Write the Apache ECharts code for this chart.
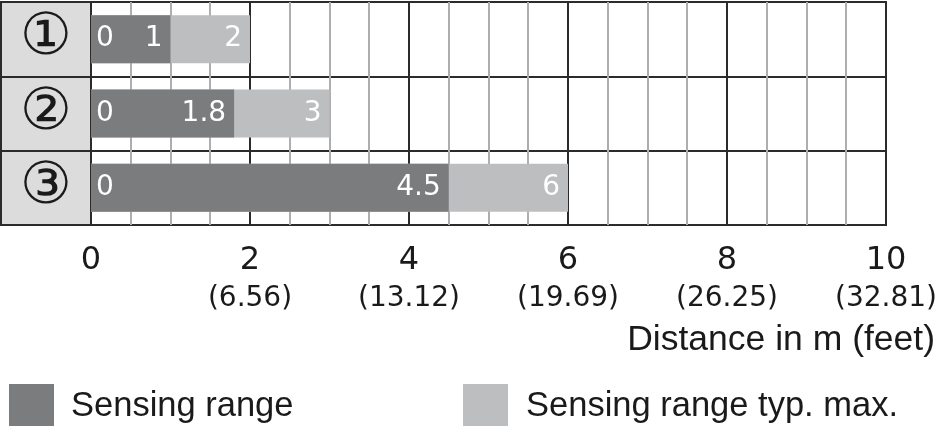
<!DOCTYPE html>
<html>
<head>
<meta charset="utf-8">
<script src="https://cdn.jsdelivr.net/npm/echarts@6/dist/echarts.min.js"></script>
<style>html,body{margin:0;padding:0;background:#fff}#c{width:940px;height:426px}</style>
</head>
<body>
<div id="c"></div>
<script>
const categories = ['①', '②', '③'];
const sensingRange = [1, 1.8, 4.5];
const typMax = [2, 3, 6];
const startValues = [0, 0, 0];
const tickValues = [0, 2, 4, 6, 8, 10];
const tickFeet = ['', '6.56', '13.12', '19.69', '26.25', '32.81'];
const legendNames = ['Sensing range', 'Sensing range typ. max.'];
const axisTitle = 'Distance in m (feet)';

const DARK = '#7b7c7e', LIGHT = '#bdbec0', LINE = '#2b2b2b', MINOR = '#aeaeb0';
const NUM = 'DejaVu Sans';
const TXT = 'Liberation Sans';

const chart = echarts.init(document.getElementById('c'));
chart.setOption({
  animation: false,
  backgroundColor: '#fff',
  title: {
    text: axisTitle, right: 0, top: 317,
    textStyle: { fontFamily: TXT, fontSize: 35.5, fontWeight: 'normal', color: '#1a1a1a' }
  },
  legend: [
    { left: 4, top: 379, itemWidth: 45, itemHeight: 45, icon: 'rect', data: [legendNames[0]],
      textStyle: { fontFamily: TXT, fontSize: 34.5, color: '#1a1a1a', padding: [0, 0, 0, 12] } },
    { left: 458, top: 379, itemWidth: 45, itemHeight: 45, icon: 'rect', data: [legendNames[1]],
      textStyle: { fontFamily: TXT, fontSize: 34.5, color: '#1a1a1a', padding: [0, 0, 0, 13] } }
  ],
  grid: [
    { left: 91, right: 52, top: 2, height: 223, show: true, borderColor: LINE, borderWidth: 2, backgroundColor: '#fff' },
    { left: 1, width: 90, top: 2, height: 223, show: true, borderColor: LINE, borderWidth: 2, backgroundColor: '#dcdcdc' }
  ],
  xAxis: [
    { type: 'value', gridIndex: 0, min: 0, max: 10, interval: 0.5, z: 0,
      axisLine: { show: false }, axisTick: { show: false }, axisLabel: { show: false },
      splitLine: { show: true, lineStyle: { color: MINOR, width: 2 } } },
    { type: 'value', gridIndex: 0, min: 0, max: 10, interval: 2, z: 1, position: 'bottom',
      axisLine: { show: false }, axisTick: { show: false },
      splitLine: { show: true, lineStyle: { color: LINE, width: 2 } },
      axisLabel: {
        margin: 17, color: '#1a1a1a',
        formatter: function (v) {
          const i = tickValues.indexOf(v);
          const f = i >= 0 ? tickFeet[i] : '';
          return f ? '{a|' + v + '}\n{b|(' + f + ')}' : '{a|' + v + '}';
        },
        rich: {
          a: { fontFamily: NUM, fontSize: 32, lineHeight: 38, color: '#1a1a1a' },
          b: { fontFamily: NUM, fontSize: 28, lineHeight: 38, color: '#1a1a1a' }
        }
      } },
    { type: 'value', gridIndex: 1, min: 0, max: 1, show: false }
  ],
  yAxis: [
    { type: 'category', gridIndex: 0, data: categories, inverse: true,
      axisLine: { show: false }, axisTick: { show: false },
      splitLine: { show: true, lineStyle: { color: LINE, width: 2 } },
      axisLabel: { interval: 0, hideOverlap: false, margin: 45, align: 'center', fontFamily: 'DejaVu Sans, Noto Sans CJK JP', fontSize: 58, color: '#1a1a1a' } },
    { type: 'category', gridIndex: 1, data: categories, inverse: true,
      axisLine: { show: false }, axisTick: { show: false }, axisLabel: { show: false },
      splitLine: { show: true, lineStyle: { color: LINE, width: 2 } } }
  ],
  series: [
    { name: legendNames[1], type: 'bar', xAxisIndex: 0, yAxisIndex: 0, data: typMax,
      barWidth: 48, barGap: '-100%', itemStyle: { color: LIGHT },
      label: { show: true, position: 'insideRight', distance: 8, color: '#fff', fontFamily: NUM, fontSize: 28 } },
    { name: legendNames[0], type: 'bar', xAxisIndex: 0, yAxisIndex: 0, data: sensingRange,
      barWidth: 48, barGap: '-100%', itemStyle: { color: DARK },
      label: { show: true, position: 'insideRight', distance: 8, color: '#fff', fontFamily: NUM, fontSize: 28 } },
    { name: 'start', type: 'bar', xAxisIndex: 0, yAxisIndex: 0, data: sensingRange, z: 5,
      barWidth: 48, barGap: '-100%', itemStyle: { color: 'rgba(0,0,0,0)' },
      label: { show: true, position: 'insideLeft', distance: 5, color: '#fff', fontFamily: NUM, fontSize: 28,
               formatter: p => String(startValues[p.dataIndex]) } }
  ]
});
</script>
</body>
</html>
